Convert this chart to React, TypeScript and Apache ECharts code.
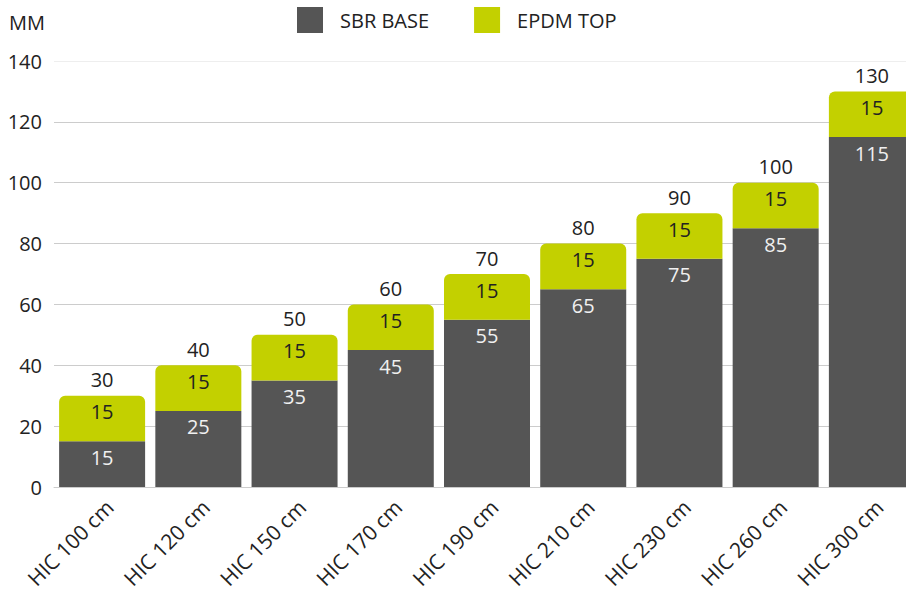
import React, { useEffect, useRef } from "react";
import * as echarts from "echarts";

const categories = [
  "HIC 100 cm",
  "HIC 120 cm",
  "HIC 150 cm",
  "HIC 170 cm",
  "HIC 190 cm",
  "HIC 210 cm",
  "HIC 230 cm",
  "HIC 260 cm",
  "HIC 300 cm",
];
const sbrBase = [15, 25, 35, 45, 55, 65, 75, 85, 115];
const epdmTop = [15, 15, 15, 15, 15, 15, 15, 15, 15];
const totals = sbrBase.map((v, i) => v + epdmTop[i]);

const FONT = "'Open Sans', 'Noto Sans', sans-serif";
const FS = 20;

export default function App() {
  const ref = useRef<HTMLDivElement>(null);
  useEffect(() => {
    document.body.style.margin = "0";
    const chart = echarts.init(ref.current!, undefined, { renderer: "svg" });
    chart.setOption({
      animation: false,
      textStyle: { fontFamily: FONT },
      legend: {
        data: ["SBR BASE", "EPDM TOP"],
        top: 2,
        left: 292,
        itemWidth: 26,
        itemHeight: 26,
        itemGap: 45,
        icon: "rect",
        textStyle: { fontSize: FS, color: "#222", fontFamily: FONT, padding: [0, 0, 0, 12] },
      },
      grid: { left: 54, top: 61, width: 866, height: 426, containLabel: false, outerBoundsMode: "none" },
      xAxis: {
        type: "category",
        data: categories,
        axisTick: { show: false },
        axisLine: { lineStyle: { color: "#cccccc", width: 1 } },
        axisLabel: {
          rotate: 45,
          fontSize: 21,
          lineHeight: 21,
          color: "#222",
          margin: 9,
          verticalAlign: "top",
          fontFamily: FONT,
        },
      },
      yAxis: {
        type: "value",
        min: 0,
        max: 140,
        interval: 20,
        name: "MM",
        nameLocation: "end",
        nameGap: 29,
        nameTextStyle: { fontSize: FS, color: "#222", align: "right", padding: [0, 9, 0, 0], fontFamily: FONT },
        axisLabel: { fontSize: FS, color: "#222", margin: 12, fontFamily: FONT },
        splitLine: {
          lineStyle: {
            color: ["#cccccc", "#cccccc", "#cccccc", "#cccccc", "#cccccc", "#cccccc", "#cccccc", "#eeeeee"],
          },
        },
      },
      series: [
        {
          name: "SBR BASE",
          type: "bar",
          stack: "t",
          data: sbrBase,
          barWidth: 86,
          itemStyle: { color: "#555555" },
          label: { show: true, position: "insideTop", distance: 6, fontSize: FS, color: "#f0f0f0", fontFamily: FONT },
        },
        {
          name: "EPDM TOP",
          type: "bar",
          stack: "t",
          data: epdmTop,
          barWidth: 86,
          itemStyle: { color: "#c3d000", borderRadius: [6, 6, 0, 0] },
          label: { show: true, position: "insideTop", distance: 6, fontSize: FS, color: "#222", fontFamily: FONT },
        },
        {
          name: "TOTAL",
          type: "bar",
          stack: "t",
          data: totals.map(() => 0),
          barWidth: 86,
          itemStyle: { color: "transparent" },
          label: {
            show: true,
            position: "top",
            distance: 6,
            fontSize: FS,
            color: "#222",
            fontFamily: FONT,
            formatter: (p: any) => String(totals[p.dataIndex]),
          },
        },
      ],
    });
    return () => chart.dispose();
  }, []);
  return <div ref={ref} style={{ width: 906, height: 592 }} />;
}
